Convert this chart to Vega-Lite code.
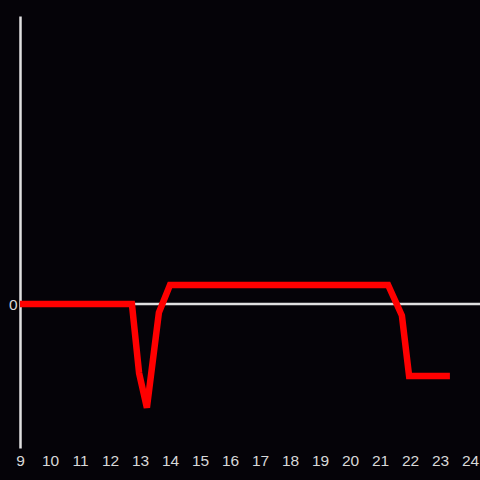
{
  "$schema": "https://vega.github.io/schema/vega-lite/v6.json",
  "width": 460,
  "height": 432,
  "autosize": {"type": "none"},
  "padding": {"left": 20, "top": 16, "right": 0, "bottom": 32},
  "background": "#050308",
  "config": {
    "view": {"stroke": null},
    "axis": {"labelFont": "Liberation Sans", "labelFontSize": 15.5, "labelColor": "#d8d8d8", "grid": false, "ticks": false}
  },
  "layer": [
    {
      "data": {"values": [{"y": 0}]},
      "mark": {"type": "rule", "color": "#e0e0e0", "strokeWidth": 2.5},
      "encoding": {"y": {"field": "y", "type": "quantitative", "scale": {"domain": [-1, 2]}}}
    },
    {
      "data": {"values": [
        {"x": 9, "y": 0},
        {"x": 12.73, "y": 0},
        {"x": 12.97, "y": -0.48},
        {"x": 13.23, "y": -0.72},
        {"x": 13.63, "y": -0.06},
        {"x": 14.0, "y": 0.132},
        {"x": 21.27, "y": 0.132},
        {"x": 21.73, "y": -0.08},
        {"x": 21.97, "y": -0.5},
        {"x": 23.33, "y": -0.5}
      ]},
      "mark": {"type": "line", "color": "#ff0000", "strokeWidth": 6.5},
      "encoding": {
        "x": {"field": "x", "type": "quantitative", "scale": {"domain": [9, 24.3333], "nice": false, "zero": false},
              "axis": {"title": null, "domain": false, "values": [9,10,11,12,13,14,15,16,17,18,19,20,21,22,23,24], "format": "d", "labelPadding": 5, "labelFlush": false}},
        "y": {"field": "y", "type": "quantitative", "scale": {"domain": [-1, 2], "nice": false, "zero": false},
              "axis": {"title": null, "domain": true, "domainColor": "#e0e0e0", "domainWidth": 2.5, "values": [0], "format": "d", "labelPadding": 3}}
      }
    }
  ]
}
